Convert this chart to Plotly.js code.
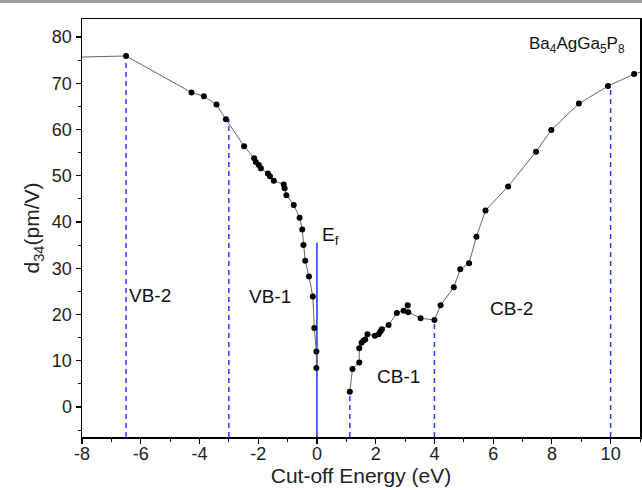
<!DOCTYPE html>
<html>
<head>
<meta charset="utf-8">
<script src="https://cdn.plot.ly/plotly-3.0.1.min.js"></script>
<style>
html,body{margin:0;padding:0;background:#fff;}
#bar{position:absolute;left:0;top:0;width:642px;height:3px;background:#9c9c9c;z-index:10;}
#chart{width:642px;height:490px;}
</style>
</head>
<body>
<div id="bar"></div>
<div id="chart"></div>
<script>
// Valence-band side: cut-off energy (eV) and d34 (pm/V)
const energyVB = [-8.6, -6.5, -4.27, -3.85, -3.42, -3.1, -2.48, -2.14, -2.08, -1.98, -1.91, -1.67, -1.6, -1.47, -1.13, -1.1, -1.04, -0.79, -0.59, -0.5, -0.46, -0.4, -0.27, -0.14, -0.09, -0.02, -0.02];
const d34VB = [75.6, 75.9, 68.0, 67.2, 65.4, 62.2, 56.4, 53.8, 53.0, 52.3, 51.6, 50.5, 49.9, 48.9, 48.1, 47.3, 45.8, 43.7, 40.9, 38.4, 35.0, 31.6, 28.2, 23.9, 17.1, 12.0, 8.4];
// Conduction-band side
const energyCB = [1.12, 1.21, 1.44, 1.44, 1.52, 1.58, 1.64, 1.72, 1.97, 2.1, 2.16, 2.21, 2.44, 2.72, 2.95, 3.09, 3.11, 3.53, 4.0,
  4.21, 4.66, 4.88, 5.18, 5.43, 5.74, 6.51, 7.46, 7.98, 8.92, 9.91, 10.8, 11.3];
const d34CB = [3.3, 8.2, 9.6, 12.7, 13.9, 14.3, 14.6, 15.7, 15.4, 15.7, 16.3, 16.8, 17.7, 20.3, 20.8, 22.0, 20.5, 19.2, 18.8,
  22.0, 25.9, 29.8, 31.1, 36.8, 42.5, 47.7, 55.2, 59.9, 65.6, 69.4, 72.0, 73.0];

// Band boundary markers
const boundaryX = [-6.5, -3.0, 1.12, 4.0, 10.0];
const boundaryTop = [75.9, 62.2, 3.3, 18.8, 69.4];
const fermiX = 0;
const fermiTop = 35.5;

// Region labels
const labelText = ["VB-2", "VB-1", "CB-1", "CB-2"];
const labelX = [-5.7, -1.6, 2.76, 6.64];
const labelY = [24.0, 23.8, 6.5, 21.2];

// Tick labels
const xTickVals = [-8, -6, -4, -2, 0, 2, 4, 6, 8, 10];
const xTickText = ["-8", "-6", "-4", "-2", "0", "2", "4", "6", "8", "10"];
const yTickVals = [0, 10, 20, 30, 40, 50, 60, 70, 80];
const yTickText = ["0", "10", "20", "30", "40", "50", "60", "70", "80"];

const yMin = -6.5, yMax = 83.9;
const xMin = -8, xMax = 11;
const FAM = 'Liberation Sans, Arial, sans-serif';

const traces = [];
boundaryX.forEach((bx, i) => {
  traces.push({
    x: [bx, bx], y: [yMin, boundaryTop[i]], mode: 'lines', type: 'scatter',
    line: {color: '#2f3cf5', width: 1.5, dash: '5px,4px'}, hoverinfo: 'skip', showlegend: false
  });
});
traces.push({
  x: [fermiX, fermiX], y: [yMin, fermiTop], mode: 'lines', type: 'scatter',
  line: {color: '#2f3cf5', width: 1.6}, hoverinfo: 'skip', showlegend: false
});
[[energyVB, d34VB], [energyCB, d34CB]].forEach(([xs, ys]) => {
  traces.push({
    x: xs, y: ys, mode: 'lines+markers', type: 'scatter',
    line: {color: '#666666', width: 1},
    marker: {color: '#000000', size: 6},
    showlegend: false
  });
});

const annotations = labelText.map((t, i) => ({
  x: labelX[i], y: labelY[i], xref: 'x', yref: 'y', text: t, showarrow: false,
  font: {family: FAM, size: 19, color: '#111'}
}));
annotations.push({
  x: 0.1, y: 37.0, xref: 'x', yref: 'y', text: 'E<sub>f</sub>', showarrow: false, xanchor: 'left',
  font: {family: FAM, size: 19, color: '#111'}
});
annotations.push({
  x: 10.55, y: 78.3, xref: 'x', yref: 'y', text: 'Ba<sub>4</sub>AgGa<sub>5</sub>P<sub>8</sub>', showarrow: false, xanchor: 'right',
  font: {family: FAM, size: 17, color: '#111'}
});

const tickFont = {family: FAM, size: 18, color: '#222'};
const layout = {
  width: 642, height: 490,
  margin: {l: 82, r: 2, t: 19, b: 53},
  paper_bgcolor: '#ffffff', plot_bgcolor: '#ffffff',
  font: tickFont,
  showlegend: false,
  xaxis: {
    range: [xMin, xMax], tickmode: 'array', tickvals: xTickVals, ticktext: xTickText,
    ticks: 'outside', ticklen: 5, tickwidth: 1.2, tickcolor: '#000',
    minor: {tickmode: 'linear', tick0: -8, dtick: 1, ticks: 'outside', ticklen: 3, tickcolor: '#000', tickwidth: 1},
    showline: true, linecolor: '#000', linewidth: 1.5, mirror: true,
    showgrid: false, zeroline: false,
    tickfont: tickFont, ticklabelstandoff: -5,
    title: {text: 'Cut-off Energy (eV)', font: {family: FAM, size: 21, color: '#222'}, standoff: 1}
  },
  yaxis: {
    range: [yMin, yMax], tickmode: 'array', tickvals: yTickVals, ticktext: yTickText,
    ticks: 'outside', ticklen: 5, tickwidth: 1.2, tickcolor: '#000',
    minor: {tickmode: 'linear', tick0: 0, dtick: 5, ticks: 'outside', ticklen: 3, tickcolor: '#000', tickwidth: 1},
    showline: true, linecolor: '#000', linewidth: 1.5, mirror: true,
    showgrid: false, zeroline: false,
    tickfont: tickFont,
    title: {text: 'd<sub>34</sub>(pm/V)', font: {family: FAM, size: 21, color: '#222'}, standoff: 6}
  },
  annotations: annotations
};

Plotly.newPlot('chart', traces, layout, {displayModeBar: false, staticPlot: true});
</script>
</body>
</html>
